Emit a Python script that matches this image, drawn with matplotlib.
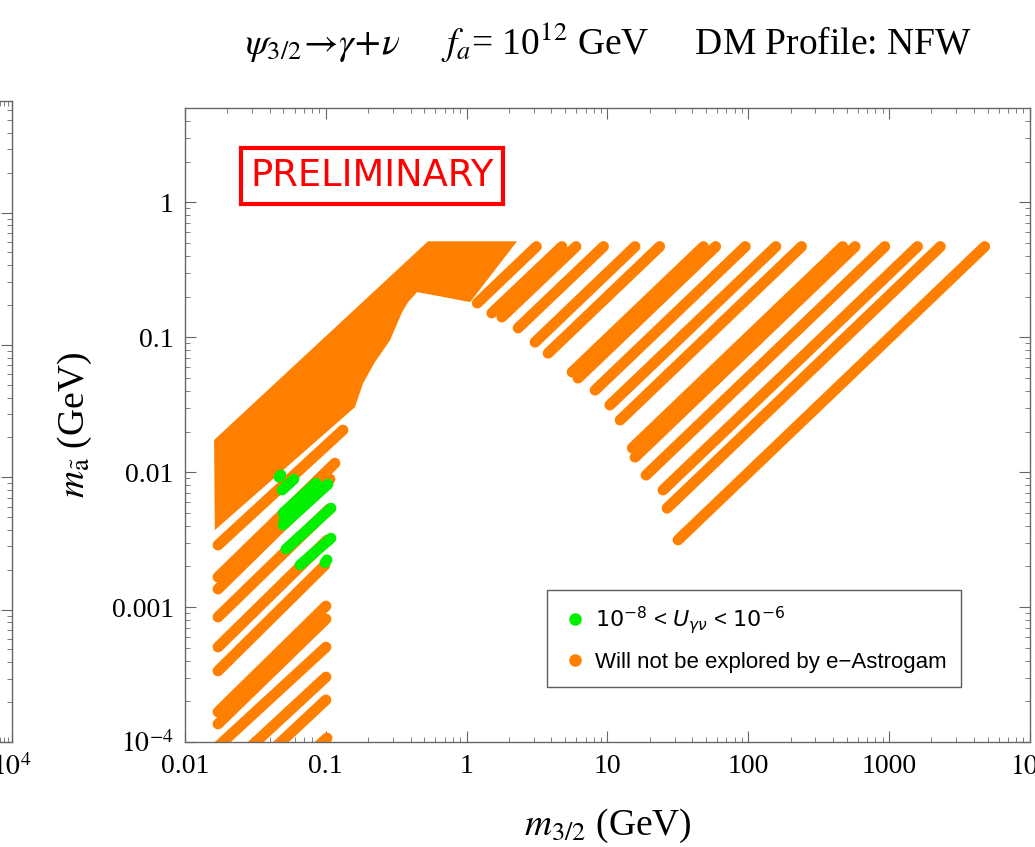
import matplotlib
matplotlib.use("Agg")
import matplotlib.pyplot as plt
from matplotlib.lines import Line2D

plt.rcParams['font.family'] = ['Liberation Serif', 'DejaVu Serif']
plt.rcParams['mathtext.fontset'] = 'stix'

ORANGE = '#ff8000'
GREEN = '#00f000'
FRAME = '#666666'

# upper filled block (outline)
fill_x = [0.0161, 0.532, 2.28, 1.06, 0.647, 0.445, 0.384, 0.348, 0.286, 0.223, 0.184, 0.161, 0.0163]
fill_y = [0.0173, 0.514, 0.514, 0.182, 0.201, 0.216, 0.182, 0.153, 0.095, 0.0653, 0.0456, 0.0303, 0.00372]

# right-hand fan of strips, each ending at the top cut
fan_x0 = [1.19, 1.51, 1.78, 2.32, 3.06, 3.79, 5.61, 6.18, 8.17, 10.4, 12.3, 15.0, 15.7, 18.8, 24.8, 26.5, 31.7]
fan_y0 = [0.179, 0.151, 0.141, 0.117, 0.0918, 0.0761, 0.0551, 0.0497, 0.0405, 0.0314, 0.0243,
          0.0151, 0.0129, 0.0095, 0.00736, 0.0054, 0.00314]
fan_x1 = [3.13, 4.75, 5.98, 9.38, 15.7, 23.5, 48.1, 58.7, 95.3, 157, 239, 468, 574, 933, 1592, 2313, 4775]
fan_y1 = [0.47] * 17

# lower-left strips between m32 ~ 0.016 and 0.1
low_x0 = [0.01716] * 8 + [0.01555, 0.02087, 0.02894, 0.0656]
low_y0 = [0.00288, 0.001668, 0.001359, 0.000843, 0.000505, 0.000336, 0.000167, 0.000136,
          8.43e-5, 6.64e-5, 6.10e-5, 6.99e-5]
low_x1 = [0.1324, 0.1162, 0.1071, 0.1054, 0.1020, 0.0987, 0.1003, 0.1003, 0.1003, 0.1003, 0.1003, 0.1020]
low_y1 = [0.0205, 0.01166, 0.00888, 0.00532, 0.003135, 0.002047, 0.001017, 0.000815,
          0.000505, 0.000303, 0.000205, 0.000107]

# green pieces (10^-8 < U < 10^-6)
g_x0 = [0.0465, 0.0489, 0.0497, 0.0505, 0.0497, 0.0522, 0.0656, 0.0987]
g_y0 = [0.00918, 0.00736, 0.00497, 0.00441, 0.00405, 0.00269, 0.00205, 0.00213]
g_x1 = [0.0480, 0.0594, 0.0852, 0.0940, 0.1037, 0.1089, 0.1089, 0.1020]
g_y1 = [0.00955, 0.00888, 0.00829, 0.00774, 0.00815, 0.00541, 0.00324, 0.00224]

x_ticks = [0.01, 0.1, 1, 10, 100, 1000, 1e4]
x_labels = ['0.01', '0.1', '1', '10', '100', '1000', r'$10^4$']
y_ticks = [1e-4, 1e-3, 1e-2, 0.1, 1]
y_labels = [r'$10^{-4}$', '0.001', '0.01', '0.1', '1']

fig = plt.figure(figsize=(10.35, 8.47), dpi=100)


def frame(ax):
    for s in ax.spines.values():
        s.set_color(FRAME)
        s.set_linewidth(1.0)
    ax.tick_params(which='both', direction='in', top=True, right=True, color=FRAME)
    ax.tick_params(which='major', length=8, width=0.8)
    ax.tick_params(which='minor', length=3.5, width=0.6)


# neighbouring panel, mostly off the canvas
ax0 = fig.add_axes([-0.30, 0.124, 0.3116, 0.757])
ax0.set_xscale('log')
ax0.set_yscale('log')
ax0.set_xlim(1, 1e4)
ax0.set_ylim(1e-4, 7)
frame(ax0)
ax0.set_xticks([1e4])
ax0.set_xticklabels([r'$10^4$'], fontsize=20)
ax0.set_yticklabels([])
ax0.tick_params(axis='x', which='major', pad=9)

ax = fig.add_axes([0.1787, 0.124, 0.8164, 0.7485])
ax.set_xscale('log')
ax.set_yscale('log')

ax.fill(fill_x, fill_y, color=ORANGE, lw=0)
for x0, y0, x1, y1 in zip(fan_x0, fan_y0, fan_x1, fan_y1):
    ax.plot([x0, x1], [y0, y1], color=ORANGE, lw=7.8, solid_capstyle='round')
for x0, y0, x1, y1 in zip(low_x0, low_y0, low_x1, low_y1):
    ax.plot([x0, x1], [y0, y1], color=ORANGE, lw=7.8, solid_capstyle='round')
for x0, y0, x1, y1 in zip(g_x0, g_y0, g_x1, g_y1):
    ax.plot([x0, x1], [y0, y1], color=GREEN, lw=7.8, solid_capstyle='round')

ax.set_xlim(0.01, 1e4)
ax.set_ylim(1e-4, 5)
frame(ax)
ax.set_xticks(x_ticks)
ax.set_xticklabels(x_labels, fontsize=20)
ax.set_yticks(y_ticks)
ax.set_yticklabels(y_labels, fontsize=20)
ax.tick_params(axis='x', which='major', pad=9)
ax.tick_params(axis='y', which='major', pad=8)

ax.set_xlabel(r'$m_{3/2}$ (GeV)', fontsize=27, labelpad=18)
ax.set_ylabel(r'$m_{\tilde{\rm a}}$ (GeV)', fontsize=27, labelpad=13)

fig.text(0.588, 0.950,
         r'$\psi_{3/2}\!\rightarrow\!\gamma\!+\!\nu$     $f_a$= 10$^{12}$ GeV     DM Profile: NFW',
         ha='center', va='center', fontsize=27)

ax.text(0.2213, 0.893, 'PRELIMINARY', transform=ax.transAxes, family='DejaVu Sans',
        fontsize=26.5, color='red', ha='center', va='center',
        bbox=dict(boxstyle='square,pad=0.25', fc='white', ec='red', lw=3))

handles = [Line2D([], [], ls='none', marker='o', ms=8, color=GREEN),
           Line2D([], [], ls='none', marker='o', ms=8, color=ORANGE)]
leg = ax.legend(handles, [r'$10^{-8}$ < $U_{\gamma\nu}$ < $10^{-6}$', 'Will not be explored by e\u2212Astrogam'],
                loc='lower left', bbox_to_anchor=(0.415, 0.069), frameon=True, fancybox=False,
                edgecolor='#333333', prop={'family': 'Liberation Sans', 'size': 16},
                handletextpad=0.3, borderpad=0.65, labelspacing=0.7, handlelength=1.2)
leg.get_frame().set_linewidth(1.0)
leg.get_texts()[0].set_math_fontfamily('dejavusans')

fig.savefig('out.png', dpi=100)
